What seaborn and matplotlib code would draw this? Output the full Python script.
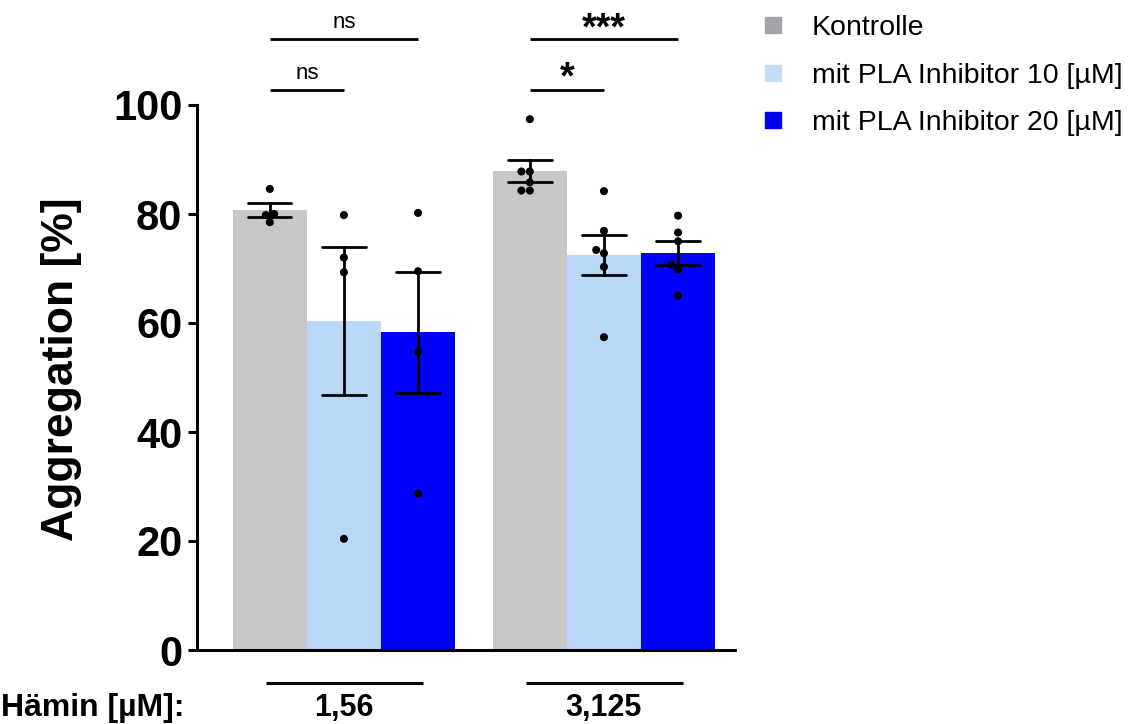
import matplotlib
matplotlib.use("Agg")
import matplotlib.pyplot as plt
import numpy as np
import pandas as pd
import seaborn as sns
from matplotlib.lines import Line2D

# ---------------- data ----------------
haemin_levels = ["1,56", "3,125"]
conditions = ["Kontrolle", "mit PLA Inhibitor 10 [µM]", "mit PLA Inhibitor 20 [µM]"]

kontrolle_1_56 = [84.6, 80.0, 79.8, 78.5]
pla10_1_56 = [79.8, 72.0, 69.3, 20.4]
pla20_1_56 = [80.2, 69.5, 54.7, 28.7]
kontrolle_3_125 = [97.4, 87.8, 87.8, 85.8, 84.3, 84.3]
pla10_3_125 = [84.2, 76.9, 73.4, 72.8, 70.3, 57.4]
pla20_3_125 = [79.7, 76.6, 75.0, 70.7, 69.8, 65.0]

y_ticks = [0, 20, 40, 60, 80, 100]
x_axis_title = "Hämin [µM]:"
y_axis_title = "Aggregation [%]"

# significance comparisons: group index, condition a, condition b, label, bracket tier
sig_group = [0, 0, 1, 1]
sig_cond_a = [0, 0, 0, 0]
sig_cond_b = [2, 1, 2, 1]
sig_label = ["ns", "ns", "***", "*"]
sig_tier = [2, 1, 2, 1]

# ---------------- styling ----------------
bar_colors = ["#c8c8c8", "#b9d7f7", "#0000ff"]
legend_colors = ["#a3a3a7", "#c6dcf5", "#0000f5"]

series = [
    ("1,56", conditions[0], kontrolle_1_56),
    ("1,56", conditions[1], pla10_1_56),
    ("1,56", conditions[2], pla20_1_56),
    ("3,125", conditions[0], kontrolle_3_125),
    ("3,125", conditions[1], pla10_3_125),
    ("3,125", conditions[2], pla20_3_125),
]
rows = []
for h, c, vals in series:
    for v in vals:
        rows.append({"Hämin": h, "Bedingung": c, "Aggregation": v})
df = pd.DataFrame(rows)

sns.set_style("ticks")
plt.rcParams["font.family"] = ["Liberation Sans", "DejaVu Sans"]
plt.rcParams["text.color"] = "black"
plt.rcParams["axes.labelcolor"] = "black"
plt.rcParams["xtick.color"] = "black"
plt.rcParams["ytick.color"] = "black"

W, H = 1143, 724
fig = plt.figure(figsize=(W / 100, H / 100), dpi=100)
ax = fig.add_axes([197 / W, 74 / H, 538 / W, 545 / H])

BAR_W = 0.855
sns.barplot(
    data=df, x="Hämin", y="Aggregation", hue="Bedingung",
    order=haemin_levels, hue_order=conditions, palette=bar_colors,
    width=BAR_W, errorbar="se", capsize=0.5, saturation=1,
    err_kws={"color": "black", "linewidth": 2.0}, linewidth=0,
    legend=False, ax=ax,
)
sns.swarmplot(
    data=df, x="Hämin", y="Aggregation", hue="Bedingung",
    order=haemin_levels, hue_order=conditions,
    palette={c: "black" for c in conditions}, dodge=True, size=5.8,
    legend=False, ax=ax,
)

ax.set_ylim(0, 100)
ax.set_xlim(-0.565, 1.504)

# bar centres from the drawn patches
bars = [p for p in ax.patches if p.get_height() > 0]
bars.sort(key=lambda p: p.get_x())
centers = [p.get_x() + p.get_width() / 2 for p in bars]

# swarm: realign to bar centres (swarmplot dodges with width 0.8)
fig.canvas.draw()
n_h = len(conditions)
old_centers = [g + (j - (n_h - 1) / 2) * 0.8 / n_h for g in range(len(haemin_levels)) for j in range(n_h)]
for coll in list(ax.collections):
    offs = coll.get_offsets()
    if len(offs) == 0:
        continue
    offs = np.array(offs)
    mx = offs[:, 0].mean()
    k = int(np.argmin([abs(mx - oc) for oc in old_centers]))
    if "draw" in coll.__dict__:
        del coll.draw
    offs[:, 0] = offs[:, 0] + (centers[k] - old_centers[k])
    coll.set_offsets(offs)

# axes styling
ax.set_yticks(y_ticks)
ax.tick_params(axis="y", length=6.5, width=2.2, labelsize=30, pad=4, colors="black")
for lab in ax.get_yticklabels():
    lab.set_fontweight("bold")
ax.set_xticks([])
ax.set_xlabel("")
ax.set_ylabel(y_axis_title, fontsize=32, fontweight="bold", color="black")
ax.yaxis.set_label_coords(-0.213, 0.515)
for s in ["top", "right"]:
    ax.spines[s].set_visible(False)
for s in ["left", "bottom"]:
    ax.spines[s].set_linewidth(2.2)
    ax.spines[s].set_color("black")

# group underlines and labels
for i, lab in enumerate(haemin_levels):
    ax.plot([i - 0.30, i + 0.305], [-6.05, -6.05], color="black", lw=2.2,
            clip_on=False, solid_capstyle="butt")
    ax.text(i, -10.6, lab, ha="center", va="center", fontsize=22, fontweight="bold",
            color="black")
fig.text(1 / W, 1 - 708 / H, x_axis_title, ha="left", va="center",
         fontsize=23, fontweight="bold", color="black")

# significance brackets
tier_y = {1: 102.75, 2: 112.1}
for g, a, b, lab, t in zip(sig_group, sig_cond_a, sig_cond_b, sig_label, sig_tier):
    x1 = centers[g * n_h + a]
    x2 = centers[g * n_h + b]
    y = tier_y[t]
    ax.plot([x1, x2], [y, y], color="black", lw=2.0, clip_on=False, solid_capstyle="butt")
    xm = (x1 + x2) / 2
    if lab == "ns":
        ax.text(xm, y + 2.0, lab, ha="center", va="baseline", fontsize=16, clip_on=False)
    else:
        ax.text(xm, y + (0.0 if t == 2 else 0.2), lab, ha="center", va="baseline",
                fontsize=27, fontweight="bold", clip_on=False)

# legend
handles = [Line2D([0], [0], marker="s", linestyle="none", markersize=12,
                  markerfacecolor=c, markeredgecolor=c) for c in legend_colors]
fig.legend(handles, conditions, loc="upper left", bbox_to_anchor=(752 / W, 1 - 15 / H),
           frameon=False, fontsize=20.5, handlelength=1.44, handletextpad=0.65,
           labelspacing=0.76, borderpad=0, borderaxespad=0)

fig.savefig("out.png", dpi=100)
